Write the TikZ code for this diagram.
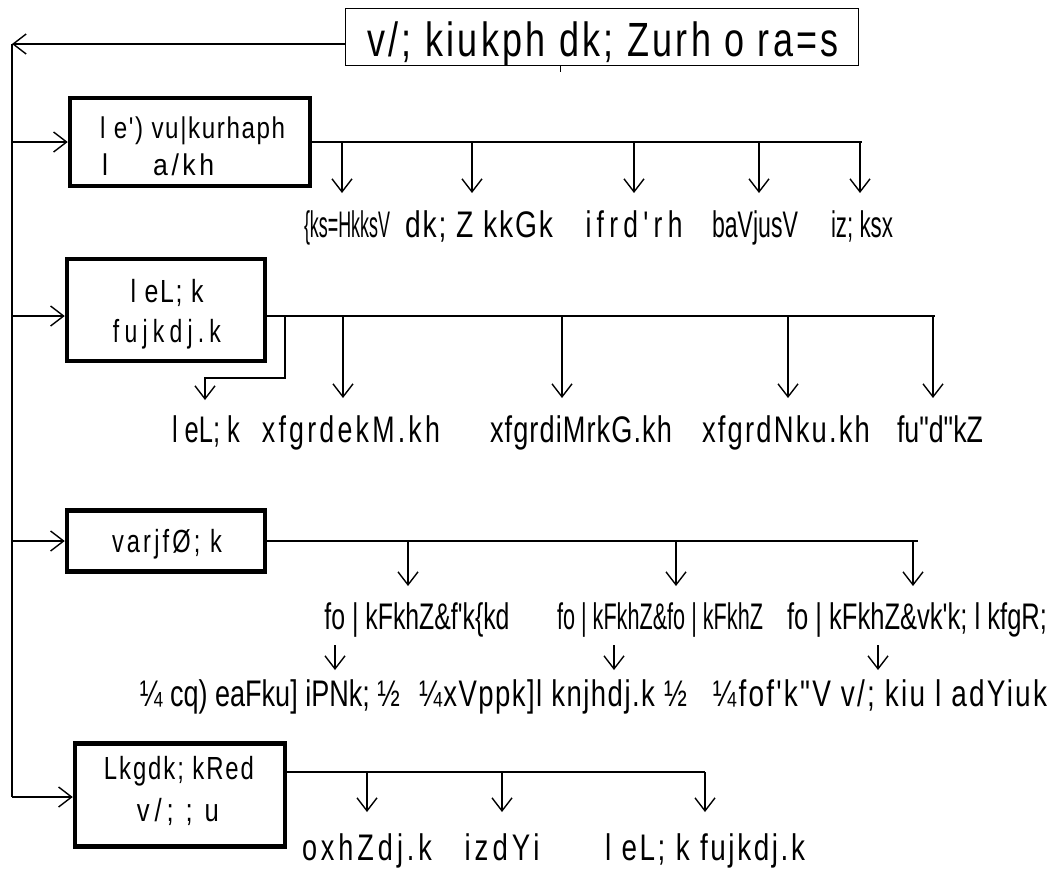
\documentclass[tikz,border=0pt]{standalone}
\usepackage{fontspec}
\setmainfont{Liberation Sans}
\newfontfamily\cnd{Liberation Sans}[FakeStretch=0.75]
\usetikzlibrary{arrows.meta}
\newcommand\fw[2]{\resizebox{#1pt}{\height}{#2}}
\newcommand\lsp[1]{\addfontfeature{LetterSpace=#1}}
\begin{document}
\begin{tikzpicture}[x=1pt,y=-1pt,
  arr/.style={-{Straight Barb[length=13pt,width=20pt]},line width=1.4pt},
  ln/.style={line width=1.4pt},
  thick box/.style={draw,line width=4.5pt,inner sep=0pt},
  lab/.style={inner sep=0pt,anchor=base,font={\cnd\fontsize{37}{39}\selectfont}},
  bxt/.style={inner sep=0pt,anchor=base,font={\cnd\fontsize{32}{34}\selectfont}},
  bxs/.style={inner sep=0pt,anchor=base west,font={\cnd\fontsize{30}{32}\selectfont}},
]
\useasboundingbox (0,0) rectangle (1052,871);
% top box
\node[draw,line width=1pt,minimum width=513pt,minimum height=57pt,inner sep=0pt] (top) at (601.5,36.5) {};
\node[inner sep=0pt,anchor=base,font={\cnd\fontsize{48}{50}\selectfont}] (toptxt) at (603,56) {\fw{472}{\lsp{7}v/; kiukph dk; Zurh o ra=s}};
\coordinate (tick) at (560,72);
\draw[line width=1pt] (top.south -| tick) -- (tick);
\coordinate (Ltop) at (12,44);
\coordinate (Lbot) at (12,797);
\draw[arr] (top.west |- Ltop) -- (Ltop);
\draw[ln] (Ltop) -- (Lbot);

% box 1
\node[thick box,minimum width=240pt,minimum height=88pt] (b1) at (190,142) {};
\node[bxs] (b1a) at (100,138) {\fw{185}{\lsp{5}l e') vu|kurhaph}};
\node[bxs] (b1b) at (102,175) {\fw{112}{l\hspace{38pt}\lsp{10}a/kh}};
\coordinate (L1) at (12,142);
\draw[arr] (L1) -- (b1.west);
\coordinate (r1e) at (862,142);
\draw[ln] (b1.east) -- (r1e);
\foreach \x/\n in {342/a,472/b,634/c,759/d,860/e}{
  \coordinate (r1\n s) at (\x,142);
  \coordinate (r1\n t) at (\x,193);
  \draw[arr] (r1\n s) -- (r1\n t);
}
\node[lab] (l1a) at (347,237) {\fw{86}{\{ks=HkksV}};
\node[lab] (l1b) at (479,237) {\fw{148}{\lsp{5}dk; Z kkGk}};
\node[lab] (l1c) at (634,237) {\fw{97}{\lsp{15}ifrd'rh}};
\node[lab] (l1d) at (755,237) {\fw{86}{baVjusV}};
\node[lab] (l1e) at (862,237) {\fw{62}{iz; ksx}};

% box 2
\node[thick box,minimum width=198pt,minimum height=102pt] (b2) at (166,310) {};
\node[bxt] (b2a) at (167,302) {\fw{73}{\lsp{5}l eL; k}};
\node[bxt] (b2b) at (167,342) {\fw{108}{\lsp{17}fujkdj.k}};
\coordinate (L2) at (12,316);
\draw[arr] (L2) -- (b2.west |- L2);
\coordinate (r2s) at (b2.east |- L2);
\coordinate (r2e) at (935,316);
\draw[ln] (r2s) -- (r2e);
\coordinate (bA) at (285,316);
\coordinate (bB) at (285,378);
\coordinate (bC) at (205,378);
\coordinate (bD) at (205,400);
\draw[arr] (bA) -- (bB) -- (bC) -- (bD);
\foreach \x/\n in {343/a,562/b,788/c,933/d}{
  \coordinate (r2\n s) at (\x,316);
  \coordinate (r2\n t) at (\x,398);
  \draw[arr] (r2\n s) -- (r2\n t);
}
\node[lab] (l2z) at (206,442) {\fw{68}{l eL; k}};
\node[lab] (l2a) at (351,442) {\fw{178}{\lsp{9}xfgrdekM.kh}};
\node[lab] (l2b) at (581,442) {\fw{182}{\lsp{3}xfgrdiMrkG.kh}};
\node[lab] (l2c) at (786,442) {\fw{168}{\lsp{6}xfgrdNku.kh}};
\node[lab] (l2d) at (940,442) {\fw{86}{fu"d"kZ}};

% box 3
\node[thick box,minimum width=198pt,minimum height=61pt] (b3) at (166,541) {};
\node[bxt] (b3a) at (167,552) {\fw{110}{\lsp{10}varjfØ; k}};
\coordinate (L3) at (12,541);
\draw[arr] (L3) -- (b3.west);
\coordinate (r3e) at (918,541);
\draw[ln] (b3.east) -- (r3e);
\foreach \x/\n in {408/a,676/b,913/c}{
  \coordinate (r3\n s) at (\x,541);
  \coordinate (r3\n t) at (\x,586);
  \draw[arr] (r3\n s) -- (r3\n t);
}
\node[lab] (l3a) at (417,629) {\fw{185}{fo | kFkhZ\&f'k\{kd}};
\node[lab] (l3b) at (660,629) {\fw{206}{fo | kFkhZ\&fo | kFkhZ}};
\node[lab] (l3c) at (917,629) {\fw{260}{fo | kFkhZ\&vk'k; l kfgR;}};
\foreach \x/\n in {335/a,614/b,878/c}{
  \coordinate (s3\n s) at (\x,645);
  \coordinate (s3\n t) at (\x,670);
  \draw[arr] (s3\n s) -- (s3\n t);
}
\node[lab] (m3a) at (270,706) {\fw{260}{¼ cq) eaFku] iPNk; ½}};
\node[lab] (m3b) at (553,706) {\fw{268}{\lsp{4}¼xVppk]l knjhdj.k ½}};
\node[lab] (m3c) at (880,706) {\fw{334}{\lsp{6}¼fof'k"V v/; kiu l adYiuk}};

% box 4
\node[thick box,minimum width=210pt,minimum height=103pt] (b4) at (180,795) {};
\node[bxt] (b4a) at (179,779) {\fw{150}{\lsp{6}Lkgdk; kRed}};
\node[bxt] (b4b) at (178,821) {\fw{82}{\lsp{14}v/; ; u}};
\draw[arr] (Lbot) -- (b4.west |- Lbot);
\coordinate (r4s) at (285,772);
\coordinate (r4e) at (705,772);
\draw[ln] (b4.east |- r4s) -- (r4e);
\foreach \x/\n in {367/a,502/b,705/c}{
  \coordinate (r4\n s) at (\x,772);
  \coordinate (r4\n t) at (\x,812);
  \draw[arr] (r4\n s) -- (r4\n t);
}
\node[lab] (l4a) at (367,860) {\fw{130}{\lsp{11}oxhZdj.k}};
\node[lab] (l4b) at (502,860) {\fw{75}{\lsp{11}izdYi}};
\node[lab] (l4c) at (705,860) {\fw{200}{\lsp{7}l eL; k fujkdj.k}};
\end{tikzpicture}
\end{document}
